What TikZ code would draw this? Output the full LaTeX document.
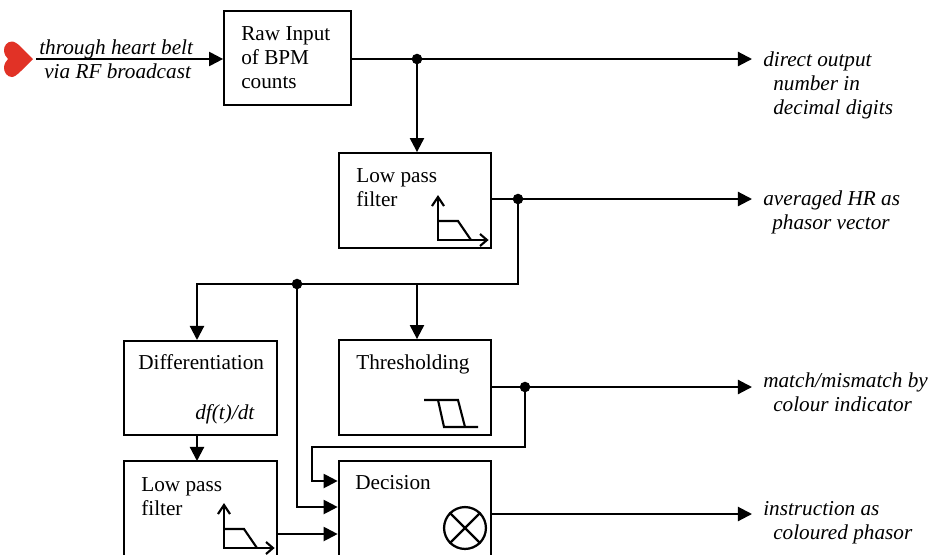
\documentclass[tikz,border=0pt]{standalone}
\usepackage{fontspec}
\setmainfont{Liberation Serif}
\usetikzlibrary{arrows.meta,positioning}
\definecolor{heartred}{RGB}{225,50,38}
\tikzset{
	blockbox/.style={draw,line width=1.5pt,minimum width=153\pxunit,minimum height=95\pxunit,inner sep=0pt},
	blocktext/.style={anchor=north west,align=left,inner sep=0pt,font=\fontsize{15.1}{17}\selectfont},
	outtext/.style={anchor=base west,inner sep=0pt,font=\fontsize{15.1}{17}\selectfont\itshape},
	link/.style={line width=1.5pt},
	linkarrow/.style={link,-{Triangle[length=10pt,width=10pt]}},
	icon/.style={line width=1.5pt},
	junction/.style={circle,fill=black,inner sep=0pt,outer sep=0pt,minimum size=7.5pt}
}
\newcommand{\pxunit}{*0.709pt}
\begin{document}
\begin{tikzpicture}[x=0.025cm,y=-0.025cm]
	\useasboundingbox (0,0) rectangle (934,554);
	%heart
	\fill[heartred] (33,59) -- (21,47)
		.. controls (17,43) and (14,41.5) .. (12,41.5)
		.. controls (7,41.5) and (4,46) .. (4,50)
		.. controls (4,54) and (6,57) .. (8,59)
		.. controls (6,61) and (4,64) .. (4,68)
		.. controls (4,72) and (7,77) .. (12,77)
		.. controls (14,77) and (17,75) .. (21,71) -- cycle;
	%blocks
	\node[blockbox,minimum width=127\pxunit,minimum height=94\pxunit] (raw) at (287.5,58) {};
	\node[blockbox] (lpone) at (415,200.5) {};
	\node[blockbox] (diff) at (200.5,388) {};
	\node[blockbox] (thresh) at (415,387.5) {};
	\node[blockbox] (lptwo) at (200.5,508.5) {};
	\node[blockbox] (decision) at (415,508.5) {};
	\node[blocktext] (rawtext) at (241,26) {Raw Input\\of BPM\\counts};
	\node[blocktext] (lponetext) at (356,168) {Low pass\\filter};
	\node[blocktext] (difftext) at (138,354) {Differentiation};
	\node[blocktext] (dfdt) at (195,404) {\itshape df(t)/dt};
	\node[blocktext] (threshtext) at (356,354) {Thresholding};
	\node[blocktext] (lptwotext) at (141,477) {Low pass\\filter};
	\node[blocktext] (decisiontext) at (355,475) {Decision};
	%junctions
	\node[junction] (rawdot) at (417,59) {};
	\node[junction] (lponedot) at (518,199) {};
	\node[junction] (busdot) at (297,284) {};
	\node[junction] (threshdot) at (525,387) {};
	%outputs
	\coordinate (heartend) at (36,59);
	\coordinate (outraw) at (752,59);
	\coordinate (outlp) at (752,199);
	\coordinate (outthresh) at (752,387);
	\coordinate (outdecision) at (752,514);
	\coordinate (diffin) at (197,340);
	\coordinate (diffout) at (197,436);
	\coordinate (lptwoin) at (197,461);
	%first row
	\draw[linkarrow] (heartend) -- (raw.west |- heartend);
	\draw[link] (raw.east |- rawdot) -- (rawdot);
	\draw[linkarrow] (rawdot) -- (outraw);
	\draw[linkarrow] (rawdot) -- (lpone.north -| rawdot);
	%second row
	\draw[link] (lpone.east |- lponedot) -- (lponedot);
	\draw[linkarrow] (lponedot) -- (outlp);
	\draw[linkarrow] (lponedot) |- (busdot) -| (diffin);
	\draw[linkarrow] (417,284) -- (thresh.north -| rawdot);
	%third row
	\draw[link] (thresh.east |- threshdot) -- (threshdot);
	\draw[linkarrow] (threshdot) -- (outthresh);
	\draw[linkarrow] (threshdot) |- (312,447) |- (decision.west |- 0,481);
	\draw[linkarrow] (busdot) |- (decision.west |- 0,507);
	\draw[linkarrow] (diffout) -- (lptwoin);
	\draw[linkarrow] (lptwo.east |- 0,534) -- (decision.west |- 0,534);
	\draw[linkarrow] (decision.east |- outdecision) -- (outdecision);
	%icons
	\foreach \xoff/\yoff in {0/0,-214/308}{
		\begin{scope}[shift={(\xoff,\yoff)}]
			\draw[icon] (438,197) -- (438,240) -- (487,240);
			\draw[icon] (432,206) -- (438,197) -- (444,206);
			\draw[icon] (480,234) -- (487,240) -- (480,246);
			\draw[icon] (438,221) -- (458,221) -- (471,240);
		\end{scope}
	}
	\draw[icon] (424,400) -- (458,400) -- (465,427);
	\draw[icon] (438,400) -- (444,427) -- (478,427);
	\node[draw,circle,line width=1.6pt,minimum size=42\pxunit,inner sep=0pt] (mixer) at (465,528) {};
	\draw[line width=1.6pt] (mixer.north west) -- (mixer.south east);
	\draw[line width=1.6pt] (mixer.north east) -- (mixer.south west);
	%labels
	\node[outtext] (beltone) at (39,54) {through heart belt};
	\node[outtext] (belttwo) at (44,78) {via RF broadcast};
	\node[outtext] (rawoutone) at (763,66) {direct output};
	\node[outtext] (rawouttwo) at (773,90) {number in};
	\node[outtext] (rawoutthree) at (773,114) {decimal digits};
	\node[outtext] (lpoutone) at (763,205) {averaged HR as};
	\node[outtext] (lpouttwo) at (772,229) {phasor vector};
	\node[outtext] (thoutone) at (763,387) {match/mismatch by};
	\node[outtext] (thouttwo) at (773,411) {colour indicator};
	\node[outtext] (decoutone) at (763,515) {instruction as};
	\node[outtext] (decouttwo) at (773,539) {coloured phasor};
\end{tikzpicture}
\end{document}
